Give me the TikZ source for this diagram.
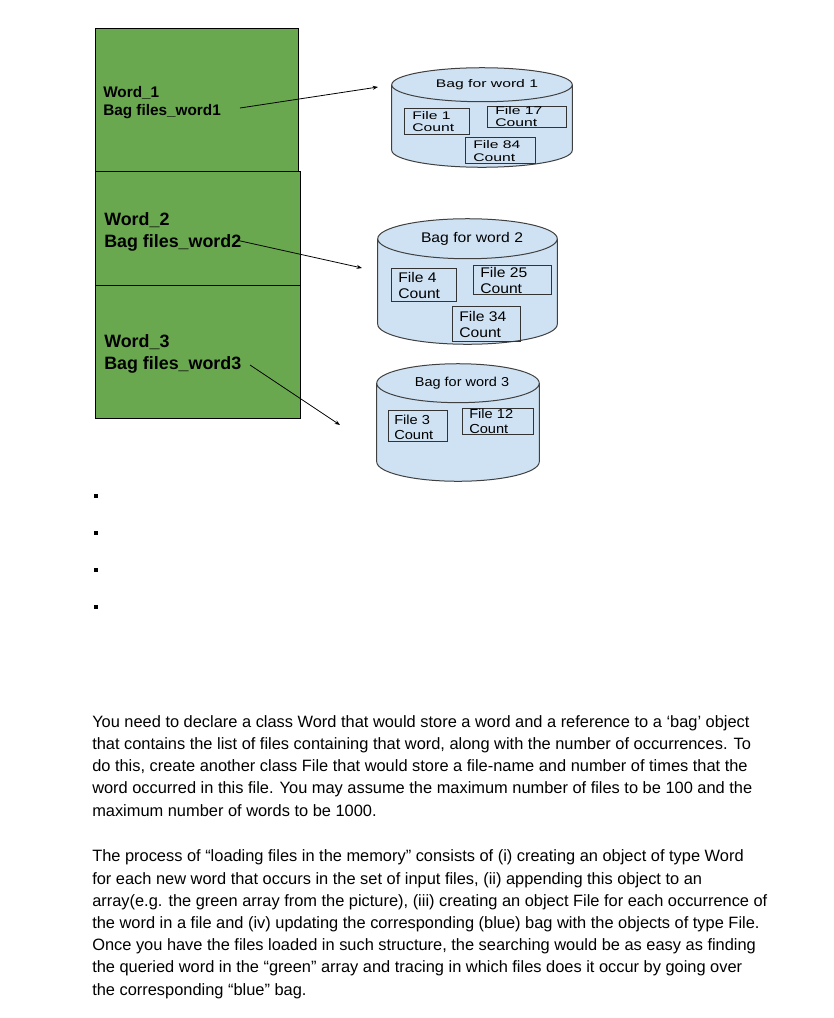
\documentclass[tikz,border=0pt]{standalone}
\usepackage{fontspec}
\setmainfont{Liberation Sans}
\newfontfamily\widesf[FakeStretch=1.42]{Liberation Sans}
\newfontfamily\midsf[FakeStretch=1.12]{Liberation Sans}
\usetikzlibrary{arrows.meta,calc}
\definecolor{ArrayGreen}{HTML}{6AA84F}
\definecolor{BagBlue}{HTML}{CFE2F3}

\begin{document}
\begin{tikzpicture}[x=0.75pt,y=-0.75pt,
  cell/.style={draw=black,fill=ArrayGreen,line width=0.8pt,inner sep=0pt,anchor=north west},
  wordlbl/.style={anchor=west,align=left,inner sep=0pt,font=\bfseries},
  bag/.style={inner sep=0pt},
  bagline/.style={draw=black!75,fill=BagBlue,line width=0.75pt},
  filebox/.style={draw=black!80,line width=0.6pt,inner sep=0pt},
  filetxt/.style={anchor=west,align=left,inner sep=0pt},
  link/.style={-{Stealth[length=4pt,width=3pt]},line width=0.6pt},
  dot/.style={fill=black,minimum size=3pt,inner sep=0pt}]
\useasboundingbox (0,0) rectangle (834,1018);

% green array
\node[cell,minimum width=152.25pt,minimum height=107.25pt] (c1) at (95,28) {};
\node[cell,minimum width=153.75pt,minimum height=85.5pt] (c2) at (95,171) {};
\node[cell,minimum width=153.75pt,minimum height=99.75pt] (c3) at (95,285) {};
\node[wordlbl,font=\fontsize{11.5}{13.5}\selectfont\bfseries] (w1) at (103,102.5) {Word\_1\\Bag files\_word1};
\node[wordlbl,font=\fontsize{13.4}{16.5}\selectfont\bfseries] (w2) at (104,231.5) {Word\_2\\Bag files\_word2};
\node[wordlbl,font=\fontsize{13.4}{17}\selectfont\bfseries] (w3) at (104,354) {Word\_3\\Bag files\_word3};

% bags
\node[bag,minimum width=135pt,minimum height=74.25pt] (bag1) at (482,117.5) {};
\node[bag,minimum width=134.25pt,minimum height=93.75pt] (bag2) at (467.5,281.5) {};
\node[bag,minimum width=121.5pt,minimum height=87.75pt] (bag3) at (458,422.5) {};
\foreach \b/\r in {bag1/12.75,bag2/15,bag3/14.6}{
  \path let \p1=(\b.north west), \p2=(\b.south east), \n1={(\x2-\x1)/2} in
    [bagline] ([yshift=-\r pt]\b.north west) -- ([yshift=\r pt]\b.south west)
      arc[start angle=180,end angle=360,x radius=\n1,y radius=\r pt]
      -- ([yshift=-\r pt]\b.north east)
      arc[start angle=0,end angle=180,x radius=\n1,y radius=\r pt] -- cycle
    ([yshift=-\r pt]\b.north west) arc[start angle=180,end angle=360,x radius=\n1,y radius=\r pt];
}
\node[font=\widesf\fontsize{8.3}{9.4}\selectfont] (t1) at (487,85) {Bag for word 1};
\node[font=\midsf\fontsize{10.5}{12}\selectfont] (t2) at (472,239) {Bag for word 2};
\node[font=\midsf\fontsize{9.7}{11}\selectfont] (t3) at (462,383) {Bag for word 3};

% files in bag 1
\node[filebox,minimum width=48.75pt,minimum height=19.5pt] (f1) at (436.5,121) {};
\node[filebox,minimum width=59.25pt,minimum height=15.75pt] (f17) at (526.5,116.5) {};
\node[filebox,minimum width=52.5pt,minimum height=19.5pt] (f84) at (500,150) {};
\begin{scope}[every node/.append style={font=\widesf\fontsize{8.3}{9.4}\selectfont}]
\node[filetxt] (f1t) at (412,121.5) {File 1\\Count};
\node[filetxt] (f17t) at (495,116.5) {File 17\\Count};
\node[filetxt] (f84t) at (473,151) {File 84\\Count};
\end{scope}

% files in bag 2
\node[filebox,minimum width=48.75pt,minimum height=24.75pt] (f4) at (423.5,284.5) {};
\node[filebox,minimum width=58.5pt,minimum height=21.75pt] (f25) at (512,279.5) {};
\node[filebox,minimum width=51pt,minimum height=26.25pt] (f34) at (486,323.5) {};
\begin{scope}[every node/.append style={font=\midsf\fontsize{10.5}{12}\selectfont}]
\node[filetxt] (f4t) at (398,285.5) {File 4\\Count};
\node[filetxt] (f25t) at (480,280) {File 25\\Count};
\node[filetxt] (f34t) at (459,324.5) {File 34\\Count};
\end{scope}

% files in bag 3
\node[filebox,minimum width=44.25pt,minimum height=23.25pt] (f3) at (417.5,425.5) {};
\node[filebox,minimum width=53.25pt,minimum height=19.5pt] (f12) at (497.5,421) {};
\begin{scope}[every node/.append style={font=\midsf\fontsize{9.8}{11.2}\selectfont}]
\node[filetxt] (f3t) at (394,427) {File 3\\Count};
\node[filetxt] (f12t) at (469,421) {File 12\\Count};
\end{scope}

% references
\coordinate (s1) at (240,108);
\coordinate (e1) at (378,87);
\coordinate (s2) at (236,240);
\coordinate (e2) at (362,268);
\coordinate (s3) at (250,365);
\coordinate (e3) at (340,425);
\draw[link] (s1) -- (e1);
\draw[link] (s2) -- (e2);
\draw[link] (s3) -- (e3);

% more words
\foreach \y [count=\i] in {496,533,570,607}
  \node[dot] (b\i) at (96,\y) {};

\node[anchor=base west,align=left,inner sep=0pt,font=\fontsize{12.3}{16.65}\selectfont] (p1) at (92,816)
{You need to declare a class Word that would store a word and a reference to a ‘bag’ object\\
that contains the list of files containing that word, along with the number of occurrences. To\\
do this, create another class File that would store a file-name and number of times that the\\
word occurred in this file. You may assume the maximum number of files to be 100 and the\\
maximum number of words to be 1000.};
\node[anchor=base west,align=left,inner sep=0pt,font=\fontsize{12.3}{16.65}\selectfont] (p2) at (92,995)
{The process of “loading files in the memory” consists of (i) creating an object of type Word\\
for each new word that occurs in the set of input files, (ii) appending this object to an\\
array(e.g. the green array from the picture), (iii) creating an object File for each occurrence of\\
the word in a file and (iv) updating the corresponding (blue) bag with the objects of type File.\\
Once you have the files loaded in such structure, the searching would be as easy as finding\\
the queried word in the “green” array and tracing in which files does it occur by going over\\
the corresponding “blue” bag.};
\end{tikzpicture}
\end{document}
